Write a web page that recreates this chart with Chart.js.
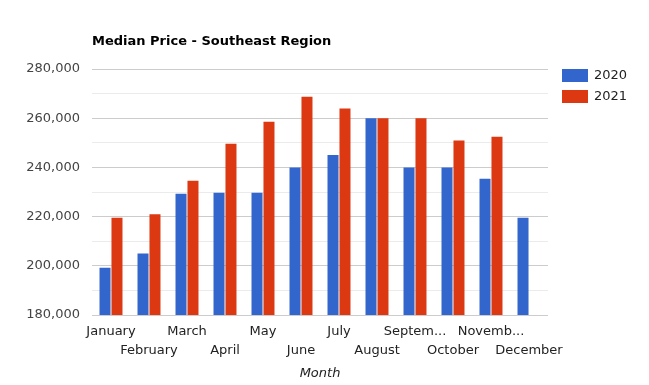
<!DOCTYPE html>
<html>
<head>
<meta charset="utf-8">
<script src="https://cdn.jsdelivr.net/npm/chart.js@4.4.1/dist/chart.umd.min.js"></script>
<style>
  html,body{margin:0;padding:0;background:#fff;}
  #wrap{width:649px;height:385px;position:relative;}
</style>
</head>
<body>
<div id="wrap"><canvas id="chart"></canvas></div>
<script>
const months = ['January','February','March','April','May','June','July','August','September','October','November','December'];
const tickLabels = ['January','February','March','April','May','June','July','August','Septem...','October','Novemb...','December'];
const price2020 = [199200, 205000, 229300, 229700, 229700, 240000, 245000, 260000, 240000, 240000, 235400, 219500];
const price2021 = [219500, 221000, 234600, 249600, 258600, 268700, 263900, 260000, 260000, 250900, 252500, null];
const yTicks = [180000, 200000, 220000, 240000, 260000, 280000];

const FONT = '"DejaVu Sans", Verdana, sans-serif';

// title at chart-area left + legend on the right, drawn by hand so they sit where the original has them
const decorPlugin = {
  id:'decor',
  afterDraw(chart){
    const c = chart.ctx;
    c.save();
    c.font = 'bold 13px ' + FONT;
    c.fillStyle = '#000';
    c.textBaseline = 'middle';
    c.fillText('Median Price - Southeast Region', chart.chartArea.left, 42);
    c.font = '13px ' + FONT;
    chart.data.datasets.forEach((ds,i)=>{
      const y = 69 + i*21;
      c.fillStyle = ds.backgroundColor;
      c.fillRect(chart.chartArea.right + 14, y, 26, 13);
      c.fillStyle = '#222';
      c.fillText(ds.label, chart.chartArea.right + 46, y + 7);
    });
    c.restore();
  }
};

new Chart(document.getElementById('chart'), {
  type:'bar',
  data:{
    labels: months,
    datasets:[
      { label:'2020', data:price2020, backgroundColor:'#3366cc', barPercentage:0.92, categoryPercentage:0.63 },
      { label:'2021', data:price2021, backgroundColor:'#dc3912', barPercentage:0.92, categoryPercentage:0.63 }
    ]
  },
  options:{
    responsive:true,
    maintainAspectRatio:false,
    animation:false,
    layout:{ padding:{ top:69, right:101, bottom:4, left:0 } },
    plugins:{
      legend:{ display:false },
      tooltip:{ enabled:false }
    },
    scales:{
      x:{
        grid:{ display:false },
        border:{ display:false },
        ticks:{
          autoSkip:false, maxRotation:0, minRotation:0, padding:0,
          color:'#222', font:{ family:FONT, size:13, lineHeight:1.4 },
          callback:(v,i)=> i % 2 ? ['', tickLabels[i]] : tickLabels[i]
        },
        title:{ display:true, text:'Month', color:'#222', padding:{top:6,bottom:0}, font:{ family:FONT, size:13, style:'italic' } }
      },
      y:{
        min:180000, max:280000,
        afterFit:(s)=>{ s.width = 92; },
        border:{ display:false },
        grid:{
          drawTicks:false,
          color:(ctx)=> yTicks.includes(ctx.tick.value) ? '#cccccc' : '#ebebeb'
        },
        ticks:{
          stepSize:10000, padding:12,
          color:'#444', font:{ family:FONT, size:13 },
          callback:(v)=> yTicks.includes(v) ? v.toLocaleString('en-US') : ''
        }
      }
    }
  },
  plugins:[decorPlugin]
});
</script>
</body>
</html>
